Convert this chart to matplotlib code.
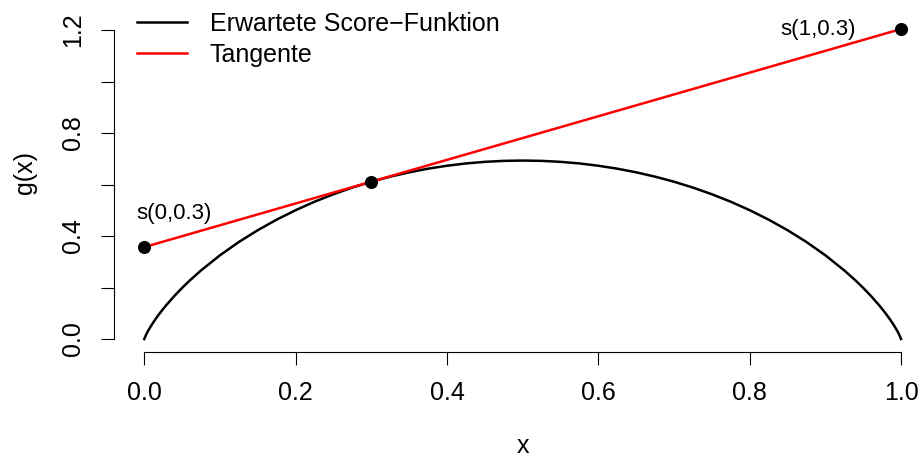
import numpy as np
import matplotlib
matplotlib.use("Agg")
import matplotlib.pyplot as plt

plt.rcParams["font.family"] = ["Liberation Sans", "DejaVu Sans"]

# expected score function
x_curve = [0, 0.0025, 0.005, 0.01, 0.015, 0.02, 0.025, 0.03, 0.04, 0.05, 0.06,
           0.075, 0.1, 0.125, 0.15, 0.175, 0.2, 0.225, 0.25, 0.275, 0.3, 0.325,
           0.35, 0.375, 0.4, 0.425, 0.45, 0.475, 0.5, 0.525, 0.55, 0.575, 0.6,
           0.625, 0.65, 0.675, 0.7, 0.725, 0.75, 0.775, 0.8, 0.825, 0.85, 0.875,
           0.9, 0.925, 0.94, 0.95, 0.96, 0.97, 0.975, 0.98, 0.985, 0.99, 0.995,
           0.9975, 1.0]
g_curve = [0.0, 0.0175, 0.0315, 0.056, 0.0779, 0.098, 0.1169, 0.1347, 0.1679,
           0.1985, 0.227, 0.2664, 0.3251, 0.3768, 0.4227, 0.4637, 0.5004, 0.5332,
           0.5623, 0.5882, 0.6109, 0.6306, 0.6474, 0.6616, 0.673, 0.6819, 0.6881,
           0.6919, 0.6931, 0.6919, 0.6881, 0.6819, 0.673, 0.6616, 0.6474, 0.6306,
           0.6109, 0.5882, 0.5623, 0.5332, 0.5004, 0.4637, 0.4227, 0.3768,
           0.3251, 0.2664, 0.227, 0.1985, 0.1679, 0.1347, 0.1169, 0.098, 0.0779,
           0.056, 0.0315, 0.0175, 0.0]

# tangent at x = 0.3
x_tan = [0.0, 1.0]
g_tan = [0.357, 1.204]
x_pts = [0.0, 0.3, 1.0]
g_pts = [0.357, 0.611, 1.204]

labels = ["s(0,0.3)", "s(1,0.3)"]
label_xy = [(0.039, 0.487), (0.8906, 1.204)]

W, H = 922, 458
fig = plt.figure(figsize=(W / 100, H / 100), dpi=100)
ax = fig.add_axes([114 / W, 106 / H, (931.3 - 114) / W, (352 - 2) / H])

l1, = ax.plot(x_curve, g_curve, color="black", lw=1.8)
l2, = ax.plot(x_tan, g_tan, color="red", lw=1.8)
ax.plot(x_pts, g_pts, "o", color="black", ms=8.4, zorder=5)

for s, (tx, ty) in zip(labels, label_xy):
    ax.text(tx, ty, s, ha="center", va="center", fontsize=16)

ax.set_xlim(-0.04, 1.04)
ax.set_ylim(-0.0505, 1.309)

for side in ["top", "right"]:
    ax.spines[side].set_visible(False)
ax.spines["left"].set_bounds(0, 1.2)
ax.spines["bottom"].set_bounds(0, 1)
for sp in ax.spines.values():
    sp.set_linewidth(0.8)

ax.set_xticks([0, 0.2, 0.4, 0.6, 0.8, 1.0])
ax.set_xticklabels(["0.0", "0.2", "0.4", "0.6", "0.8", "1.0"])
ax.set_yticks([0, 0.2, 0.4, 0.6, 0.8, 1.0, 1.2])
ax.set_yticklabels(["0.0", "", "0.4", "", "0.8", "", "1.2"], rotation=90,
                   va="center")
ax.tick_params(length=9.6, width=0.8, labelsize=18, pad=11)

fig.text(523 / W, 5 / H, "x", ha="center", va="baseline", fontsize=18)
fig.text(25 / W, 1 - 172 / H, "g(x)", ha="center", va="center",
         rotation=90, fontsize=18)

ax.legend([l1, l2], ["Erwartete Score\u2212Funktion", "Tangente"],
          loc="upper left", bbox_to_anchor=(0.0, 1.037), frameon=False,
          fontsize=18, handlelength=2.0, handletextpad=0.92,
          labelspacing=0.3, borderpad=0.4)

fig.savefig("out.png", dpi=100)
